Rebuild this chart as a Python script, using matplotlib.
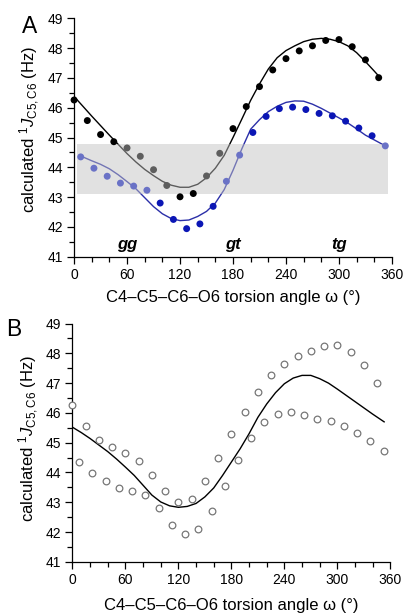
import matplotlib
matplotlib.use("Agg")
import matplotlib.pyplot as plt
import numpy as np

plt.rcParams['font.family'] = ['Liberation Sans', 'DejaVu Sans']
plt.rcParams['mathtext.fontset'] = 'custom'
plt.rcParams['mathtext.rm'] = 'Liberation Sans'
plt.rcParams['mathtext.it'] = 'Liberation Sans:italic'

# calculated couplings, set 1 (black) at 0..345 every 15 deg
w_a = np.arange(0, 346, 15)
j_a = [46.26, 45.57, 45.10, 44.86, 44.65, 44.37, 43.92, 43.39, 43.01, 43.12,
       43.71, 44.47, 45.30, 46.04, 46.71, 47.27, 47.65, 47.91, 48.08, 48.26,
       48.29, 48.05, 47.61, 47.01]

# set 2 (blue) at 7.5..352.5 every 15 deg
w_b = np.arange(7.5, 353, 15)
j_b = [44.35, 43.97, 43.70, 43.47, 43.37, 43.23, 42.80, 42.25, 41.94, 42.10,
       42.69, 43.53, 44.41, 45.17, 45.71, 45.97, 46.02, 45.94, 45.81, 45.73,
       45.55, 45.32, 45.06, 44.72]

# fitted curves
fit_a_w = [0, 10, 20, 30, 40, 50, 60, 70, 80, 90, 100, 110, 120, 130, 140, 150,
           160, 170, 180, 190, 200, 210, 220, 230, 240, 250, 260, 270, 280, 290,
           300, 310, 320, 330, 340, 347]
fit_a_j = [46.38, 46.05, 45.72, 45.40, 45.08, 44.77, 44.46, 44.18, 43.93, 43.72,
           43.53, 43.40, 43.33, 43.33, 43.43, 43.65, 43.97, 44.40, 45.00, 45.62,
           46.25, 46.80, 47.30, 47.68, 47.92, 48.08, 48.22, 48.30, 48.33, 48.30,
           48.22, 48.08, 47.85, 47.55, 47.23, 47.00]

fit_b_w = [7.5, 20, 30, 40, 50, 60, 70, 80, 90, 100, 110, 120, 130, 140, 150,
           160, 170, 180, 190, 200, 210, 220, 230, 240, 250, 260, 270, 280, 290,
           300, 310, 320, 330, 340, 352.5]
fit_b_j = [44.38, 44.22, 44.10, 43.95, 43.75, 43.52, 43.28, 42.98, 42.68, 42.44,
           42.28, 42.21, 42.23, 42.35, 42.52, 42.80, 43.25, 43.90, 44.62, 45.28,
           45.60, 45.87, 46.05, 46.18, 46.23, 46.22, 46.12, 45.98, 45.82, 45.66,
           45.49, 45.29, 45.08, 44.92, 44.72]

fit_c_w = [0, 10, 20, 30, 40, 50, 60, 70, 80, 90, 100, 110, 120, 130, 140, 150,
           160, 170, 180, 190, 200, 210, 220, 230, 240, 250, 260, 270, 280, 290,
           300, 310, 320, 330, 340, 353]
fit_c_j = [45.52, 45.34, 45.14, 44.92, 44.70, 44.45, 44.18, 43.90, 43.57, 43.24,
           43.01, 42.88, 42.83, 42.86, 42.96, 43.18, 43.48, 43.90, 44.35, 44.80,
           45.30, 45.85, 46.30, 46.68, 46.98, 47.17, 47.26, 47.26, 47.15, 47.00,
           46.80, 46.59, 46.38, 46.17, 45.96, 45.70]

band_lo, band_hi = 43.12, 44.78
band_w = [3, 356]
conf_labels = ['gg', 'gt', 'tg']
conf_w = [60, 180, 300]

xlab = 'C4\u2013C5\u2013C6\u2013O6 torsion angle \u03c9 (\u00b0)'
ylab = r'calculated $^{1}\mathit{J}_{\mathrm{C5,C6}}$ (Hz)'


def style_axes(ax):
    ax.set_xlim(0, 360)
    ax.set_ylim(41, 49)
    ax.spines['top'].set_visible(False)
    ax.spines['right'].set_visible(False)
    ax.set_xticks(np.arange(0, 361, 60))
    ax.set_xticks(np.arange(0, 361, 20), minor=True)
    ax.set_yticks(np.arange(41, 50, 1))
    ax.set_yticks(np.arange(41, 49.1, 0.5), minor=True)
    ax.tick_params(which='major', length=5, width=0.9, labelsize=10, pad=3)
    ax.tick_params(which='minor', length=3.5, width=0.9)
    for s in ax.spines.values():
        s.set_linewidth(0.9)
    ax.set_xlabel(xlab, fontsize=12, labelpad=6)
    ax.set_ylabel(ylab, fontsize=12)


fig = plt.figure(figsize=(4.07, 6.14), dpi=100)

# panel A
ax1 = fig.add_axes([0.182, 0.582, 0.781, 0.388])
style_axes(ax1)
ax1.plot(fit_a_w, fit_a_j, color='black', lw=1.0, zorder=2)
ax1.plot(fit_b_w, fit_b_j, color='#2b2fa8', lw=1.0, zorder=2)
ax1.fill_between(band_w, band_lo, band_hi, color='0.76', alpha=0.484, lw=0, zorder=3)
col_a = ['#5e5e5e' if band_lo < v < band_hi else 'black' for v in j_a]
col_b = ['#6a72c6' if band_lo < v < band_hi else '#0b16b5' for v in j_b]
ax1.scatter(w_a, j_a, s=25, c=col_a, lw=0, zorder=4, clip_on=False)
ax1.scatter(w_b, j_b, s=25, c=col_b, lw=0, zorder=4, clip_on=False)
for lab, w in zip(conf_labels, conf_w):
    ax1.text(w, 41.4, lab, fontsize=12, fontweight='bold', fontstyle='italic',
             ha='center', va='center')
ax1.yaxis.set_label_coords(-0.10, 0.535)
fig.text(0.055, 0.975, 'A', fontsize=16.5, ha='left', va='top')

# panel B
ax2 = fig.add_axes([0.178, 0.085, 0.781, 0.388])
style_axes(ax2)
ax2.plot(fit_c_w, fit_c_j, color='black', lw=1.0, zorder=2)
ax2.plot(w_a, j_a, 'o', ms=4.8, mfc='white', mec='#777777', mew=0.9, zorder=3, clip_on=False)
ax2.plot(w_b, j_b, 'o', ms=4.8, mfc='white', mec='#777777', mew=0.9, zorder=3, clip_on=False)
ax2.xaxis.labelpad = 8
ax2.yaxis.set_label_coords(-0.10, 0.52)
fig.text(0.015, 0.482, 'B', fontsize=16.5, ha='left', va='top')

fig.savefig('out.png', dpi=100)
